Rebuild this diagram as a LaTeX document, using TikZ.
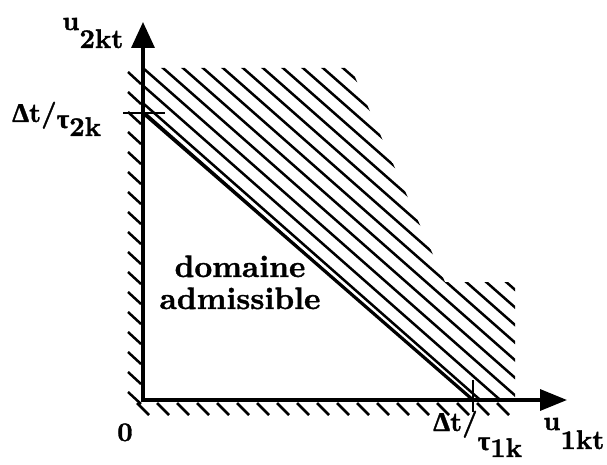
\documentclass[tikz,border=0pt]{standalone}
\usepackage{fontspec}
\setmainfont{lmroman10}[Extension=.otf, UprightFont=*-regular, BoldFont=*-bold, BoldFeatures={FakeBold=1.2}]
\newfontfamily\grk{Liberation Serif}[BoldFeatures={FakeBold=1.2}]
\usetikzlibrary{arrows.meta}
\tikzset{
  axisline/.style={line width=3.4pt, line join=miter, arrows={Triangle[length=26pt,width=23pt]-Triangle[length=27pt,width=21pt]}},
  tickline/.style={line width=2.6pt},
  diagline/.style={line width=3.2pt},
  diagthin/.style={line width=1.6pt},
  hatchline/.style={line width=2.5pt},
  edgehatch/.style={line width=2.5pt},
  lbl/.style={font=\fontsize{27}{29}\selectfont\bfseries, inner sep=0pt, anchor=base west},
  bigtext/.style={font=\fontsize{31}{32}\selectfont\bfseries, inner sep=0pt, anchor=base, align=center}
}
\begin{document}
\begin{tikzpicture}[x=1pt,y=-1pt]
\useasboundingbox (0,0) rectangle (607,465);
% key points
\coordinate (O) at (143,400);
\coordinate (ytip) at (143,22);
\coordinate (xtip) at (567,400);
\coordinate (P2) at (143,113);
\coordinate (P1) at (473,400);
\coordinate (P2b) at (146,113.5);
\coordinate (P1b) at (472,399.5);
\coordinate (t2a) at (123,113);
\coordinate (t2b) at (165,113);
\coordinate (t1a) at (473,380);
\coordinate (t1b) at (473,412);
% hatched region
\begin{scope}
  \clip (143,68) -- (351,68) -- (445,282) -- (515,282) -- (515,400) -- (473,400) -- (143,113) -- cycle;
  \foreach \k in {-4,...,20} {
    \draw[hatchline] ({143+20*\k-250},{68-250*0.88}) -- ({143+20*\k+450},{68+450*0.88});
  }
\end{scope}
% edge hatching along the axes
\foreach \i in {0,...,16} {
  \draw[edgehatch] (128,{72+20*\i}) -- (141,{84+20*\i});
}
\foreach \i in {0,...,18} {
  \draw[edgehatch] ({137+20*\i},403) -- ({149+20*\i},415);
}
% axes
\draw[axisline] (ytip) -- (O) -- (xtip);
% ticks
\draw[tickline] (t2a) -- (t2b);
\draw[tickline] (t1a) -- (t1b);
% constraint line
\draw[diagline] (P2) -- (P1);
\draw[diagthin] (P2b) -- (P1b);
% labels
\node[lbl] (lu2) at (62,30) {u\raisebox{-18pt}{2kt}};
\node[lbl] (lt2) at (12,122) {{\grk Δ}t/\raisebox{-6pt}{{\grk τ}}\raisebox{-14pt}{2k}};
\node[lbl] (lt1) at (433,431) {{\grk Δ}t/\raisebox{-19pt}{{\grk τ}}\raisebox{-26pt}{1k}};
\node[lbl] (lu1) at (543,430) {u\raisebox{-19pt}{1kt}};
\node[lbl] (l0) at (117,441) {0};
\node[bigtext] (dom) at (240,309) {domaine\\admissible};
\end{tikzpicture}
\end{document}
